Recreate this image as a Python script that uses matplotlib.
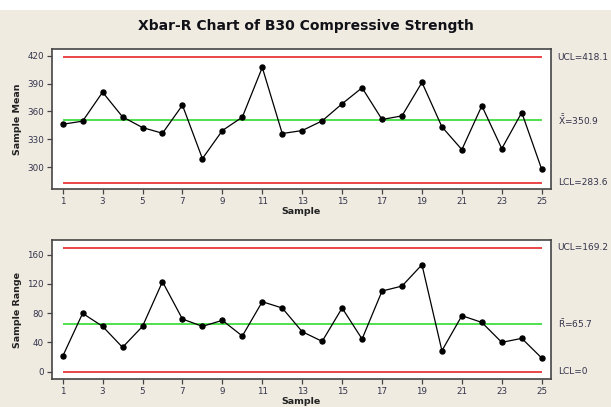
#!/usr/bin/env python3

import matplotlib
matplotlib.use("Agg")
import matplotlib.pyplot as plt
from matplotlib.patches import Rectangle
import matplotlib.transforms as mtransforms

################################################################################
# Data
################################################################################

samples = list(range(1, 26))

sample_means = [346.3, 349.6, 380.8, 354.2, 342.7, 336.6, 366.8, 309.3, 339.5,
                353.9, 407.4, 336.3, 339.5, 349.9, 368.3, 385.5, 351.4, 355.3,
                391.3, 343.5, 319.0, 366.1, 320.1, 358.9, 297.8]

sample_ranges = [21.0, 79.8, 62.0, 33.3, 62.0, 123.1, 72.0, 62.0, 70.2, 48.8,
                 95.7, 87.1, 54.7, 41.5, 87.1, 44.7, 110.3, 117.1, 146.3, 28.7,
                 76.6, 67.4, 40.1, 45.6, 18.7]

xbar_limits = {"ucl": 418.1, "cl": 350.9, "lcl": 283.6}
r_limits = {"ucl": 169.2, "cl": 65.7, "lcl": 0.0}

xbar_labels = ["UCL=418.1", r"$\bar{\bar{\mathrm{X}}}$=350.9", "LCL=283.6"]
r_labels = ["UCL=169.2", r"$\bar{\mathrm{R}}$=65.7", "LCL=0"]

x_ticks = list(range(1, 26, 2))
mean_ticks = [300, 330, 360, 390, 420]
range_ticks = [0, 40, 80, 120, 160]

################################################################################
# Style
################################################################################

BG = "#efebe1"
TXT = "#33334a"
RED = "#e8454a"
GREEN = "#4fe04f"
FRAME = "#454545"

plt.rcParams["font.family"] = ["DejaVu Sans"]
plt.rcParams["mathtext.default"] = "regular"


def draw_panel(ax, values, limits, labels, yticks, ylim, ylabel):
    ax.set_facecolor("white")
    # control lines span first to last sample only
    ax.hlines([limits["ucl"], limits["lcl"]], samples[0], samples[-1],
              colors=RED, linewidth=1.4, zorder=2)
    ax.hlines(limits["cl"], samples[0], samples[-1],
              colors=GREEN, linewidth=1.4, zorder=2)
    ax.plot(samples, values, "-", color="black", linewidth=0.9,
            marker="o", markersize=3.6, zorder=3)

    ax.set_xlim(0.45, 25.45)
    ax.set_ylim(*ylim)
    ax.set_xticks(x_ticks)
    ax.set_yticks(yticks)
    ax.tick_params(axis="both", direction="out", length=3.5, width=0.9,
                   color=FRAME, labelsize=6.3, labelcolor=TXT, pad=2)
    for sp in ax.spines.values():
        sp.set_color(FRAME)
        sp.set_linewidth(1.2)

    ax.set_ylabel(ylabel, fontsize=6.8, fontweight="bold", color="#222222",
                  labelpad=4)
    ax.set_xlabel("Sample", fontsize=6.8, fontweight="bold", color="#222222",
                  labelpad=1)

    trans = mtransforms.blended_transform_factory(ax.transAxes, ax.transData)
    for key, txt in zip(["ucl", "cl", "lcl"], labels):
        ax.text(1.014, limits[key], txt, transform=trans, ha="left",
                va="center", fontsize=6.5, color=TXT)


################################################################################
# Main
################################################################################

def main():
    fig = plt.figure(figsize=(6.11, 4.07), dpi=100, facecolor=BG)
    fig.patches.append(Rectangle((0, 1 - 10 / 407), 1, 10 / 407,
                                 transform=fig.transFigure, facecolor="white",
                                 edgecolor="none", zorder=0))

    fig.text(0.5, 1 - 26 / 407, "Xbar-R Chart of B30 Compressive Strength",
             ha="center", va="center", fontsize=10, fontweight="bold",
             color="#111118")

    ax_top = fig.add_axes([51.7 / 611, 1 - 189.3 / 407, 499 / 611, 140 / 407])
    ax_bot = fig.add_axes([51.7 / 611, 1 - 379.3 / 407, 499 / 611, 139.3 / 407])

    draw_panel(ax_top, sample_means, xbar_limits, xbar_labels, mean_ticks,
               (276.3, 426.9), "Sample Mean")
    draw_panel(ax_bot, sample_ranges, r_limits, r_labels, range_ticks,
               (-10.4, 180.1), "Sample Range")

    fig.savefig("out.png", dpi=100, facecolor=BG)


if __name__ == "__main__":
    main()
